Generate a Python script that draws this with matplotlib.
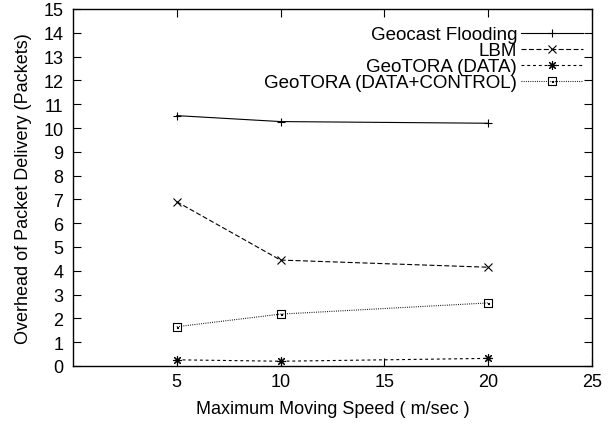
import matplotlib
matplotlib.use("Agg")
import matplotlib.pyplot as plt
from matplotlib.path import Path

plt.rcParams['font.family'] = ['Liberation Sans', 'DejaVu Sans']

# Data
speeds = [5, 10, 20]
geocast_flooding = [10.52, 10.27, 10.20]
lbm = [6.90, 4.45, 4.15]
geotora_data = [0.26, 0.20, 0.32]
geotora_data_control = [1.65, 2.18, 2.65]

x_ticks = [5, 10, 15, 20, 25]
y_ticks = list(range(0, 16))

# gnuplot-like markers: asterisk (+ and x) and box with centre dot
box_dot = Path(
    [(-1, -1), (1, -1), (1, 1), (-1, 1), (-1, -1),
     (-0.12, -0.12), (0.12, -0.12), (0.12, 0.12), (-0.12, 0.12), (-0.12, -0.12)],
    [Path.MOVETO, Path.LINETO, Path.LINETO, Path.LINETO, Path.CLOSEPOLY,
     Path.MOVETO, Path.LINETO, Path.LINETO, Path.LINETO, Path.CLOSEPOLY])

fig = plt.figure(figsize=(6.13, 4.27), dpi=100)
ax = fig.add_axes([73 / 613, 60 / 427, 519 / 613, 357 / 427])

lw = 0.8
ax.plot(speeds, geocast_flooding, color='black', lw=lw, marker='+', ms=6,
        mew=0.8, label='Geocast Flooding')
ax.plot(speeds, lbm, color='black', lw=lw, dashes=(4.5, 2.2), marker='x', ms=6,
        mew=0.8, label='LBM')
ax.plot(speeds, geotora_data, color='black', lw=lw, dashes=(2.6, 2.6), marker=(8, 2, 0),
        ms=6.5, mew=0.8, label='GeoTORA (DATA)')
ax.plot(speeds, geotora_data_control, color='black', lw=lw, dashes=(0.8, 1.2),
        marker=box_dot, ms=6, mew=0.8, mfc='none', label='GeoTORA (DATA+CONTROL)')

ax.set_xlim(0, 25)
ax.set_ylim(0, 15)
ax.set_xticks(x_ticks)
ax.set_yticks(y_ticks)
ax.tick_params(direction='in', length=5.8, width=0.8, top=True, right=True,
               labelsize=13)
ax.tick_params(axis='x', pad=5)
ax.tick_params(axis='y', pad=7)
for s in ax.spines.values():
    s.set_linewidth(1.0)

ax.set_xlabel('Maximum Moving Speed ( m/sec )', fontsize=13, labelpad=7)
ax.set_ylabel('Overhead of Packet Delivery (Packets)', fontsize=13, labelpad=8)

ax.legend(loc='upper right', bbox_to_anchor=(0.983, 0.952), frameon=False,
          markerfirst=False, fontsize=13.5, handlelength=3.3, handletextpad=0.22,
          labelspacing=-0.06, borderpad=0, borderaxespad=0)

fig.savefig('out.png', dpi=100)
